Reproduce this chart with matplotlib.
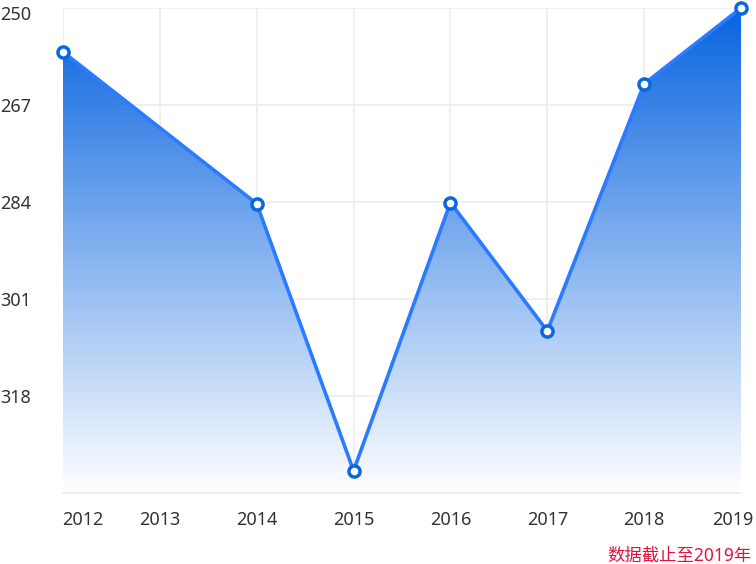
import numpy as np
import matplotlib
matplotlib.use('Agg')
import matplotlib.pyplot as plt
import matplotlib.transforms as mtransforms
from matplotlib.colors import to_rgb

plt.rcParams['font.family'] = ['Noto Sans', 'Noto Sans CJK SC', 'DejaVu Sans']

years = ['2012', '2013', '2014', '2015', '2016', '2017', '2018', '2019']
values = [257.7, np.nan, 284.3, 331.1, 284.1, 306.6, 263.3, 250.0]
yticks = [250, 267, 284, 301, 318]
y_top, y_bottom = 250, 335
note = '数据截止至2019年'

line_color = '#2a7bff'
marker_edge = '#0a68dc'
grid_color = '#ececec'
text_color = '#333333'

fig = plt.figure(figsize=(7.56, 5.64), dpi=100)
ax = fig.add_axes([63/756, 1 - 493/564, (741 - 63)/756, (493 - 8)/564])

x = np.arange(len(years))
vals = np.array(values)
ok = ~np.isnan(vals)
xs, ys = x[ok], vals[ok]

# gradient area under the line
poly = ax.fill_between(xs, ys, y_bottom, color='none', lw=0)
top = np.array(to_rgb('#0864e0'))
bot = np.array([1.0, 1.0, 1.0])
t = np.linspace(0, 1, 256)[:, None]
grad = (top * (1 - t) + bot * t)[:, None, :]
im = ax.imshow(grad, extent=(0, len(years) - 1, y_bottom, y_top), origin='upper',
               aspect='auto', interpolation='bilinear', zorder=1)
im.set_clip_path(poly.get_paths()[0], transform=ax.transData)

ax.plot(xs, ys, color=line_color, lw=2.6, zorder=3, solid_joinstyle='round')
ax.plot(xs, ys, 'o', ms=8, mfc='white', mec=marker_edge, mew=2.5, zorder=4, clip_on=False)

ax.set_xlim(0, len(years) - 1)
ax.set_ylim(y_bottom, y_top)
ax.set_xticks(x)
ax.set_xticklabels(years)
ax.set_yticks(yticks)
ax.set_yticklabels([str(v) for v in yticks])

ax.grid(True, color=grid_color, lw=1.2, zorder=0)
ax.set_axisbelow(True)
for s in ['top', 'left', 'right']:
    ax.spines[s].set_visible(False)
ax.spines['bottom'].set_color(grid_color)
ax.spines['bottom'].set_linewidth(1.2)

ax.tick_params(axis='both', length=0, labelsize=13, labelcolor=text_color)
ax.tick_params(axis='x', pad=13)
ax.tick_params(axis='y', pad=45)
for lab in ax.get_yticklabels():
    lab.set_horizontalalignment('left')

xl = ax.get_xticklabels()
xl[0].set_transform(xl[0].get_transform() + mtransforms.ScaledTranslation(20/100, 0, fig.dpi_scale_trans))
xl[-1].set_transform(xl[-1].get_transform() + mtransforms.ScaledTranslation(-8/100, 0, fig.dpi_scale_trans))
yl = ax.get_yticklabels()
yl[0].set_transform(yl[0].get_transform() + mtransforms.ScaledTranslation(0, -5/100, fig.dpi_scale_trans))

fig.text(752/756, 1 - 556/564, note, color='#e0143c', fontsize=12.5,
         ha='right', va='center')

fig.savefig('out.png', dpi=100)
